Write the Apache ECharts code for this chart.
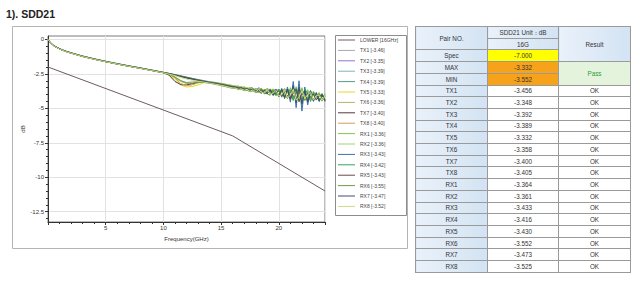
<!DOCTYPE html>
<html>
<head>
<meta charset="utf-8">
<script src="https://cdn.jsdelivr.net/npm/echarts@6/dist/echarts.min.js"></script>
<style>
  body{margin:0;background:#fff;}
  #chart{position:absolute;left:0;top:0;width:640px;height:282px;}
  #tbl{position:absolute;left:415px;top:26px;width:215px;height:247px;border-collapse:collapse;table-layout:fixed;
       font-family:'Liberation Sans',Arial,sans-serif;font-size:6.3px;color:#333;}
  #tbl td{border:1px solid #9a9a9a;padding:0;text-align:center;line-height:7px;background:#fff;}
  #tbl td.h{background:linear-gradient(to right,#e9f1fa,#d3e3f3);}
  #tbl td.y{background:#ffff00;}
  #tbl td.o{background:#f7a21b;}
  #tbl td.g{background:#e4f4dc;color:#2f9a3a;}
</style>
</head>
<body>
<div id="chart"></div>
<table id="tbl"></table>
<script>
// frequencies (GHz) shared by all measured curves
const freqs = [0,0.2,0.5,1,1.5,2,3,4,5,6,7,8,9,10,10.5,11,11.5,12,12.5,13,13.5,14,
  14.25,14.5,14.75,15,15.25,15.5,15.75,16,16.25,16.5,16.75,17,17.25,17.5,17.75,18,
  18.25,18.5,18.75,19,19.25,19.5,19.75,20,20.25,20.5,20.75,21,21.25,21.5,21.75,22,
  22.25,22.5,22.75,23,23.25,23.5,23.75,24];

// lower limit line
const lowerFreqs = [0, 16, 24];
const lowerVals = [-2, -7, -11];

// SDD21 curves (dB)
const tx1 = [0,-0.23,-0.46,-0.69,-0.86,-1.0,-1.24,-1.44,-1.62,-1.79,-1.95,-2.1,-2.26,-2.42,-2.55,-2.78,-3.02,-3.12,-3.08,-3.05,-3.08,-3.14,
  -3.16,-3.21,-3.22,-3.29,-3.31,-3.37,-3.40,-3.456,
  -3.42,-3.56,-3.5,-3.62,-3.55,-3.7,-3.55,-3.78,
  -3.58,-3.9,-3.62,-3.95,-3.6,-4.05,-3.65,-4.12,
  -3.6,-4.2,-3.7,-4.28,-3.62,-4.45,-3.58,-4.5,
  -3.75,-4.42,-3.8,-4.45,-3.9,-4.5,-3.95,-4.48];
const tx2 = [0,-0.2,-0.43,-0.66,-0.83,-0.96,-1.2,-1.4,-1.58,-1.75,-1.91,-2.06,-2.22,-2.38,-2.46,-2.55,-2.64,-2.73,-2.82,-2.91,-2.99,-3.07,
  -3.1,-3.12,-3.17,-3.19,-3.23,-3.27,-3.31,-3.348,
  -3.4,-3.38,-3.48,-3.45,-3.6,-3.48,-3.52,-3.7,
  -3.5,-3.62,-3.85,-3.55,-3.72,-3.98,-3.6,-3.75,
  -4.1,-3.6,-3.8,-4.25,-3.55,-3.75,-4.35,-3.7,
  -3.85,-4.4,-3.8,-4.0,-4.35,-3.95,-4.05,-4.4];
const tx3 = [0,-0.22,-0.45,-0.67,-0.84,-0.97,-1.21,-1.41,-1.59,-1.76,-1.92,-2.07,-2.23,-2.39,-2.47,-2.56,-2.66,-2.75,-2.85,-2.93,-3.01,-3.09,
  -3.12,-3.17,-3.19,-3.25,-3.27,-3.33,-3.34,-3.392,
  -3.5,-3.42,-3.55,-3.45,-3.66,-3.52,-3.72,-3.55,
  -3.82,-3.55,-3.88,-3.6,-3.98,-3.6,-4.05,-3.65,
  -4.15,-3.62,-4.25,-3.58,-4.4,-3.55,-4.45,-3.62,
  -4.4,-3.75,-4.4,-3.8,-4.35,-3.92,-4.42,-4.0];
const tx4 = [0,-0.21,-0.44,-0.67,-0.85,-0.98,-1.22,-1.42,-1.6,-1.77,-1.93,-2.08,-2.24,-2.4,-2.48,-2.58,-2.67,-2.77,-2.86,-2.95,-3.03,-3.11,
  -3.14,-3.16,-3.21,-3.23,-3.29,-3.31,-3.39,-3.389,
  -3.48,-3.5,-3.44,-3.6,-3.62,-3.5,-3.75,-3.6,
  -3.58,-3.88,-3.68,-3.6,-3.98,-3.7,-3.62,-4.08,
  -3.75,-3.6,-4.22,-3.8,-3.52,-4.42,-3.85,-3.6,
  -4.4,-3.9,-3.75,-4.45,-4.05,-3.9,-4.45,-4.1];
const tx5 = [0,-0.22,-0.45,-0.68,-0.85,-0.98,-1.22,-1.42,-1.6,-1.77,-1.93,-2.08,-2.24,-2.41,-2.56,-2.9,-3.3,-3.45,-3.42,-3.3,-3.15,-3.1,
  -3.11,-3.14,-3.17,-3.21,-3.24,-3.27,-3.31,-3.332,
  -3.41,-3.4,-3.5,-3.44,-3.6,-3.47,-3.65,-3.56,
  -3.76,-3.54,-3.82,-3.58,-3.92,-3.6,-3.98,-3.62,
  -4.1,-3.6,-4.18,-3.62,-4.3,-3.5,-4.4,-3.62,
  -4.35,-3.75,-4.38,-3.82,-4.32,-3.9,-4.38,-3.98];
const tx6 = [0,-0.22,-0.45,-0.68,-0.85,-0.98,-1.22,-1.42,-1.6,-1.77,-1.93,-2.08,-2.24,-2.4,-2.52,-2.75,-3.05,-3.2,-3.18,-3.08,-3.05,-3.09,
  -3.11,-3.15,-3.18,-3.22,-3.26,-3.3,-3.33,-3.358,
  -3.38,-3.5,-3.46,-3.58,-3.5,-3.66,-3.54,-3.75,
  -3.6,-3.86,-3.6,-3.92,-3.62,-4.0,-3.64,-4.06,
  -3.62,-4.18,-3.68,-4.25,-3.6,-4.38,-3.66,-4.42,
  -3.72,-4.4,-3.78,-4.42,-3.88,-4.4,-3.95,-4.45];
const tx7 = [0,-0.23,-0.46,-0.69,-0.86,-0.99,-1.23,-1.43,-1.61,-1.78,-1.94,-2.09,-2.25,-2.41,-2.6,-3.05,-3.28,-3.3,-3.22,-3.12,-3.08,-3.12,
  -3.14,-3.17,-3.21,-3.25,-3.3,-3.32,-3.38,-3.4,
  -3.46,-3.47,-3.55,-3.5,-3.62,-3.56,-3.7,-3.6,
  -3.78,-3.63,-3.84,-3.66,-3.92,-3.7,-3.98,-3.72,
  -4.05,-3.74,-4.12,-3.78,-4.2,-3.8,-4.25,-3.85,
  -4.25,-3.92,-4.28,-3.98,-4.3,-4.02,-4.35,-4.1];
const tx8 = [0,-0.22,-0.45,-0.68,-0.85,-0.98,-1.22,-1.42,-1.6,-1.77,-1.93,-2.08,-2.24,-2.4,-2.5,-2.8,-3.2,-3.35,-3.3,-3.15,-3.08,-3.11,
  -3.13,-3.18,-3.2,-3.25,-3.28,-3.34,-3.37,-3.405,
  -3.43,-3.52,-3.48,-3.6,-3.52,-3.68,-3.56,-3.75,
  -3.6,-3.84,-3.62,-3.9,-3.58,-4.02,-3.6,-4.1,
  -3.6,-4.2,-3.55,-4.35,-3.48,-4.45,-3.55,-4.48,
  -3.7,-4.42,-3.78,-4.4,-3.88,-4.4,-3.95,-4.42];
const rx1 = [0,-0.21,-0.44,-0.67,-0.84,-0.97,-1.21,-1.41,-1.59,-1.76,-1.92,-2.07,-2.23,-2.39,-2.47,-2.56,-2.65,-2.75,-2.84,-2.93,-3.01,-3.09,
  -3.12,-3.15,-3.19,-3.22,-3.27,-3.29,-3.35,-3.364,
  -3.45,-3.42,-3.55,-3.48,-3.65,-3.5,-3.72,-3.54,
  -3.85,-3.56,-3.9,-3.55,-4.02,-3.58,-4.1,-3.6,
  -4.2,-3.55,-4.3,-3.5,-4.45,-3.42,-4.55,-3.5,
  -4.45,-3.65,-4.4,-3.75,-4.38,-3.85,-4.42,-3.95];
const rx2 = [0,-0.22,-0.45,-0.67,-0.84,-0.97,-1.21,-1.41,-1.59,-1.76,-1.92,-2.07,-2.23,-2.39,-2.47,-2.57,-2.66,-2.76,-2.85,-2.94,-3.02,-3.1,
  -3.12,-3.16,-3.18,-3.23,-3.26,-3.31,-3.33,-3.361,
  -3.41,-3.47,-3.45,-3.56,-3.55,-3.6,-3.66,-3.62,
  -3.72,-3.7,-3.8,-3.75,-3.68,-3.95,-3.7,-3.78,
  -4.05,-3.72,-3.85,-4.2,-3.62,-3.9,-4.35,-3.65,
  -4.05,-4.3,-3.8,-4.1,-4.3,-3.9,-4.15,-4.35];
const rx3 = [0,-0.22,-0.45,-0.68,-0.85,-0.98,-1.22,-1.42,-1.6,-1.77,-1.93,-2.08,-2.24,-2.4,-2.49,-2.58,-2.67,-2.77,-2.86,-2.95,-3.03,-3.11,
  -3.14,-3.17,-3.21,-3.25,-3.29,-3.34,-3.38,-3.433,
  -3.45,-3.5,-3.52,-3.58,-3.58,-3.66,-3.63,-3.74,
  -3.66,-3.82,-3.7,-3.9,-3.62,-4.02,-3.6,-4.15,
  -3.55,-4.3,-3.45,-4.55,-3.05,-4.95,-3.0,-5.2,
  -3.45,-4.75,-3.7,-4.5,-3.85,-4.5,-3.95,-4.5];
const rx4 = [0,-0.22,-0.45,-0.68,-0.85,-0.98,-1.22,-1.42,-1.6,-1.77,-1.93,-2.08,-2.24,-2.4,-2.48,-2.57,-2.66,-2.76,-2.85,-2.94,-3.02,-3.1,
  -3.13,-3.17,-3.2,-3.25,-3.28,-3.33,-3.36,-3.416,
  -3.44,-3.5,-3.5,-3.58,-3.56,-3.66,-3.6,-3.74,
  -3.72,-3.6,-3.9,-3.95,-3.62,-3.75,-4.05,-3.6,
  -3.82,-4.2,-3.65,-3.7,-4.4,-3.55,-4.1,-4.45,
  -3.6,-3.9,-4.5,-3.85,-4.0,-4.4,-3.95,-4.35];
const rx5 = [0,-0.23,-0.46,-0.69,-0.86,-0.99,-1.23,-1.43,-1.61,-1.78,-1.94,-2.09,-2.25,-2.41,-2.49,-2.58,-2.68,-2.77,-2.86,-2.95,-3.04,-3.12,
  -3.15,-3.18,-3.22,-3.26,-3.3,-3.35,-3.39,-3.43,
  -3.46,-3.52,-3.52,-3.6,-3.6,-3.68,-3.66,-3.76,
  -3.75,-3.68,-3.95,-3.8,-3.7,-4.05,-3.88,-3.72,
  -4.15,-3.8,-3.7,-4.35,-3.9,-3.6,-4.5,-3.95,
  -3.85,-4.45,-4.1,-3.95,-4.4,-4.1,-4.05,-4.4];
const rx6 = [0,-0.23,-0.47,-0.7,-0.87,-1.0,-1.24,-1.44,-1.62,-1.79,-1.95,-2.1,-2.26,-2.43,-2.53,-2.72,-2.98,-3.15,-3.17,-3.12,-3.12,-3.18,
  -3.22,-3.27,-3.3,-3.36,-3.4,-3.45,-3.5,-3.552,
  -3.55,-3.64,-3.62,-3.72,-3.68,-3.8,-3.72,-3.86,
  -3.8,-3.92,-3.66,-3.95,-4.05,-3.7,-3.85,-4.15,
  -3.7,-3.95,-4.3,-3.75,-3.68,-4.45,-3.9,-3.62,
  -4.4,-4.2,-3.78,-4.45,-4.1,-3.95,-4.48,-4.15];
const rx7 = [0,-0.22,-0.46,-0.69,-0.86,-0.99,-1.23,-1.43,-1.61,-1.78,-1.94,-2.09,-2.25,-2.41,-2.5,-2.6,-2.7,-2.8,-2.9,-2.99,-3.07,-3.15,
  -3.18,-3.22,-3.26,-3.3,-3.34,-3.39,-3.43,-3.473,
  -3.48,-3.57,-3.54,-3.65,-3.6,-3.72,-3.64,-3.8,
  -3.66,-3.88,-3.68,-3.95,-3.66,-4.05,-3.68,-4.12,
  -3.62,-4.22,-3.6,-4.3,-3.35,-4.6,-3.45,-4.7,
  -3.7,-4.55,-3.8,-4.45,-3.9,-4.45,-4.0,-4.45];
const rx8 = [0,-0.23,-0.47,-0.7,-0.87,-1.0,-1.24,-1.44,-1.62,-1.79,-1.95,-2.1,-2.26,-2.42,-2.52,-2.63,-2.76,-2.88,-2.96,-3.03,-3.1,-3.17,
  -3.2,-3.25,-3.28,-3.33,-3.37,-3.42,-3.47,-3.525,
  -3.52,-3.62,-3.58,-3.68,-3.62,-3.76,-3.66,-3.82,
  -3.62,-3.85,-3.9,-3.65,-3.98,-3.92,-3.7,-4.1,
  -4.0,-3.68,-4.25,-4.05,-3.62,-4.4,-4.2,-3.7,
  -4.3,-4.0,-3.85,-4.4,-4.05,-4.05,-4.42,-4.1];

const curves = [tx1, tx2, tx3, tx4, tx5, tx6, tx7, tx8, rx1, rx2, rx3, rx4, rx5, rx6, rx7, rx8];

const legendNames = ['LOWER [16GHz]','TX1 [-3.46]','TX2 [-3.35]','TX3 [-3.39]','TX4 [-3.39]','TX5 [-3.33]',
  'TX6 [-3.36]','TX7 [-3.40]','TX8 [-3.40]','RX1 [-3.36]','RX2 [-3.36]','RX3 [-3.43]','RX4 [-3.42]',
  'RX5 [-3.43]','RX6 [-3.55]','RX7 [-3.47]','RX8 [-3.52]'];

const colors = ['#6e5c5c','#a8a8a8','#9b6fd0','#7fb3b3','#4f9f8a','#e6d82a','#b5b56a','#4d3b3b','#d0a050',
  '#7ec850','#a0d080','#3a6fb0','#2ea860','#6a4a4a','#6b9e43','#3c4f66','#cfdc80'];

// axis tick labels
const xTicks = [5, 10, 15, 20];
const yTicks = [0, -2.5, -5, -7.5, -10, -12.5];

// table: values at 16 GHz
const pairNames = ['TX1','TX2','TX3','TX4','TX5','TX6','TX7','TX8','RX1','RX2','RX3','RX4','RX5','RX6','RX7','RX8'];
const values16G = [-3.456,-3.348,-3.392,-3.389,-3.332,-3.358,-3.400,-3.405,-3.364,-3.361,-3.433,-3.416,-3.430,-3.552,-3.473,-3.525];
const results = ['OK','OK','OK','OK','OK','OK','OK','OK','OK','OK','OK','OK','OK','OK','OK','OK'];
const specVal = -7.0;

// ---- table ----
let html = '<colgroup><col style="width:72px"><col style="width:71px"><col style="width:72px"></colgroup>';
html += '<tr><td class="h" rowspan="2">Pair NO.</td><td class="h">SDD21 Unit：dB</td><td class="h" rowspan="3">Result</td></tr>';
html += '<tr><td class="h">16G</td></tr>';
html += '<tr><td class="h">Spec</td><td class="y">' + specVal.toFixed(3) + '</td></tr>';
html += '<tr><td class="h">MAX</td><td class="o">' + Math.max(...values16G).toFixed(3) + '</td><td class="g" rowspan="2">Pass</td></tr>';
html += '<tr><td class="h">MIN</td><td class="o">' + Math.min(...values16G).toFixed(3) + '</td></tr>';
pairNames.forEach((p, i) => {
  html += '<tr><td class="h">' + p + '</td><td>' + values16G[i].toFixed(3) + '</td><td>' + results[i] + '</td></tr>';
});
document.getElementById('tbl').innerHTML = html;

// ---- chart ----
const chart = echarts.init(document.getElementById('chart'), null, {renderer: 'svg'});

const minorY = [];
for (let v = 0; v >= -13; v -= 0.5) minorY.push(v);

const series = [{
  name: legendNames[0],
  type: 'line',
  data: lowerFreqs.map((f, i) => [f, lowerVals[i]]),
  symbol: 'none',
  lineStyle: {width: 1, color: colors[0]},
  itemStyle: {color: colors[0]}
}];
curves.forEach((c, k) => {
  series.push({
    name: legendNames[k + 1],
    type: 'line',
    data: freqs.map((f, i) => [f, c[i]]),
    symbol: 'none',
    lineStyle: {width: 1, color: colors[k + 1]},
    itemStyle: {color: colors[k + 1]}
  });
});

const option = {
  animation: false,
  textStyle: {fontFamily: 'Liberation Sans, Arial, sans-serif'},
  title: {
    text: '1). SDD21',
    left: 6, top: 8, padding: 0,
    textStyle: {fontSize: 10.5, fontWeight: 'bold', color: '#222'}
  },
  graphic: [
    {type: 'rect', shape: {x: 12.5, y: 26.5, width: 395, height: 222}, style: {fill: 'none', stroke: '#b4b4b4', lineWidth: 1}},
    {type: 'rect', shape: {x: 335.5, y: 35.5, width: 71, height: 180}, style: {fill: 'none', stroke: '#8c8c8c', lineWidth: 1}}
  ],
  legend: {
    orient: 'vertical',
    left: 338, top: 37, padding: 0,
    icon: 'rect',
    itemWidth: 17, itemHeight: 1, itemGap: 4.4,
    selectedMode: false,
    textStyle: {fontSize: 5, lineHeight: 6, color: '#444'},
    data: legendNames
  },
  grid: {left: 48, top: 36, width: 277, height: 186, show: true, borderColor: '#7a7a7a', borderWidth: 1},
  xAxis: {
    type: 'value', min: 0, max: 24, interval: 5,
    name: 'Frequency(GHz)', nameLocation: 'middle', nameGap: 9,
    nameTextStyle: {fontSize: 6, color: '#333'},
    axisLine: {show: true, onZero: false, lineStyle: {color: '#333'}},
    axisTick: {show: true, length: 3, lineStyle: {color: '#333'}},
    minorTick: {show: true, splitNumber: 5, length: 2, lineStyle: {color: '#333'}},
    axisLabel: {fontSize: 6, color: '#333', margin: 3, showMinLabel: false, showMaxLabel: false,
      formatter: v => xTicks.indexOf(v) >= 0 ? String(v) : ''},
    splitLine: {show: true, lineStyle: {color: '#e2e2e2'}}
  },
  yAxis: [{
    type: 'value', min: -13.25, max: 0.25,
    name: 'dB', nameLocation: 'middle', nameGap: 20, nameRotate: 90,
    nameTextStyle: {fontSize: 6, color: '#333'},
    axisLine: {show: true, lineStyle: {color: '#333'}},
    axisTick: {show: true, length: 3, customValues: yTicks, lineStyle: {color: '#333'}},
    axisLabel: {fontSize: 6, color: '#333', margin: 4, customValues: yTicks},
    splitLine: {show: true, lineStyle: {color: '#e2e2e2'}}
  }, {
    type: 'value', min: -13.25, max: 0.25, position: 'left', offset: 0,
    axisLine: {show: false},
    axisTick: {show: true, length: 2, customValues: minorY, lineStyle: {color: '#333'}},
    axisLabel: {show: false},
    splitLine: {show: false}
  }],
  series: series
};
chart.setOption(option);
</script>
</body>
</html>
